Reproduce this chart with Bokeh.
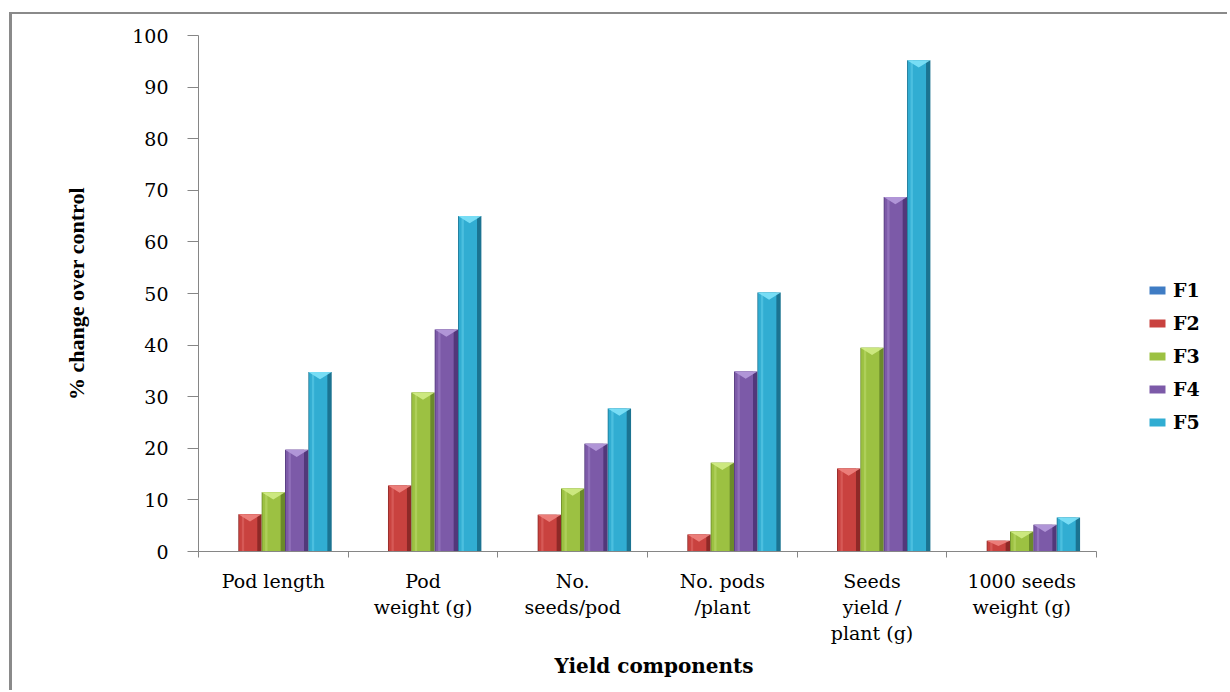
from bokeh.plotting import figure
from bokeh.models import Range1d, FixedTicker, Legend, LegendItem, ColumnDataSource, Title
from bokeh.transform import dodge
from bokeh.embed import file_html
from bokeh.resources import INLINE

# Yield components and % change over control for each treatment
categories = ["Pod length", "Pod\nweight (g)", "No.\nseeds/pod", "No. pods\n/plant",
              "Seeds\nyield /\nplant (g)", "1000 seeds\nweight (g)"]
series = ["F1", "F2", "F3", "F4", "F5"]
F1 = [0.0, 0.0, 0.0, 0.0, 0.0, 0.0]
F2 = [7.2, 12.8, 7.1, 3.3, 16.1, 2.1]
F3 = [11.5, 30.8, 12.2, 17.2, 39.5, 3.9]
F4 = [19.7, 43.0, 20.9, 34.9, 68.7, 5.2]
F5 = [34.8, 65.0, 27.7, 50.2, 95.2, 6.6]
y_ticks = list(range(0, 101, 10))

values = {"F1": F1, "F2": F2, "F3": F3, "F4": F4, "F5": F5}

# (edge, body, highlight) shades for the bevelled bars
palette = {
    "F1": ("#2A5A96", "#3F7CC4", "#7FB0E8"),
    "F2": ("#8E2927", "#C9423F", "#EE8480"),
    "F3": ("#6B8A2A", "#9CC142", "#D2EC86"),
    "F4": ("#52387A", "#7C5AA8", "#B69BDC"),
    "F5": ("#1B7391", "#31ADD2", "#7FE2F8"),
}

n = len(categories)
bw = 0.156

p = figure(width=1218, height=678, output_backend="svg", toolbar_location=None,
           x_range=Range1d(0, 6.895), y_range=Range1d(0, 100),
           min_border_left=186, min_border_right=0, min_border_top=21, min_border_bottom=141)
p.margin = (12, 0, 0, 9)
p.styles = {"border-left": "3px solid #8A8A8A", "border-top": "2px solid #8A8A8A"}
p.outline_line_color = None
p.xgrid.visible = False
p.ygrid.visible = False
p.background_fill_color = "white"
p.border_fill_color = "white"

legend_items = []
for s, name in enumerate(series):
    vals = values[name]
    edge, body, light = palette[name]
    xs = [i + 0.5 + (s - 2) * bw for i in range(n)]
    src = ColumnDataSource(dict(x=xs, top=vals))
    p.vbar(x="x", top="top", bottom=0, width=bw, source=src,
           fill_color=edge, line_color=None)
    main = p.vbar(x=dodge("x", -0.012), top="top", bottom=0, width=bw * 0.78, source=src,
                  fill_color=body, line_color=None)
    p.vbar(x=dodge("x", -bw * 0.3), top="top", bottom=0, width=bw * 0.1, source=src,
           fill_color=light, fill_alpha=0.35, line_color=None)
    # chevron highlight on each bar's top face
    cx, cy = [], []
    for x, v in zip(xs, vals):
        if v > 0:
            d = min(1.4, v * 0.5)
            cx.append([x - bw / 2, x + bw / 2, x])
            cy.append([v, v, v - d])
    if cx:
        p.patches(cx, cy, fill_color=light, fill_alpha=0.9, line_color=None)
    legend_items.append(LegendItem(label=name, renderers=[main]))

legend = Legend(items=legend_items, location=(949, 118))
legend.border_line_color = None
legend.background_fill_alpha = 0
legend.margin = 0
legend.padding = 0
legend.spacing = 11
legend.glyph_width = 20
legend.glyph_height = 10
legend.label_height = 22
legend.label_standoff = 6
legend.label_text_font = "DejaVu Serif"
legend.label_text_font_style = "bold"
legend.label_text_font_size = "19px"
legend.label_text_color = "black"
p.add_layout(legend)

# x axis: labels at category centres, tick marks at category boundaries
xa = p.xaxis[0]
xa.ticker = FixedTicker(ticks=[i + 0.5 for i in range(n)], minor_ticks=list(range(n + 1)))
xa.major_label_overrides = {i + 0.5: c for i, c in enumerate(categories)}
xa.bounds = (0, n)
xa.axis_line_color = "#868686"
xa.major_tick_line_color = None
xa.minor_tick_line_color = "#868686"
xa.minor_tick_in = 0
xa.minor_tick_out = 6
xa.major_label_standoff = 12
xa.major_label_text_font = "DejaVu Serif"
xa.major_label_text_font_size = "19px"
xa.major_label_text_color = "black"

# x axis title, centred under the six categories
xtitle = Title(text="Yield components", align="left", offset=356,
               text_font="DejaVu Serif", text_font_style="bold",
               text_font_size="20px", text_color="black", standoff=8)
p.add_layout(xtitle, "below")

ya = p.yaxis[0]
ya.ticker = FixedTicker(ticks=y_ticks)
ya.axis_line_color = "#868686"
ya.major_tick_line_color = "#868686"
ya.major_tick_in = 0
ya.major_tick_out = 11
ya.minor_tick_line_color = None
ya.major_label_standoff = 19
ya.major_label_text_font = "DejaVu Serif"
ya.major_label_text_font_size = "19px"
ya.major_label_text_color = "black"
ya.axis_label = "% change over control"
ya.axis_label_text_font = "Liberation Serif"
ya.axis_label_text_font_style = "bold"
ya.axis_label_text_font_size = "22px"
ya.axis_label_text_color = "black"
ya.axis_label_standoff = 40

open("out.html", "w").write(file_html(p, INLINE))
